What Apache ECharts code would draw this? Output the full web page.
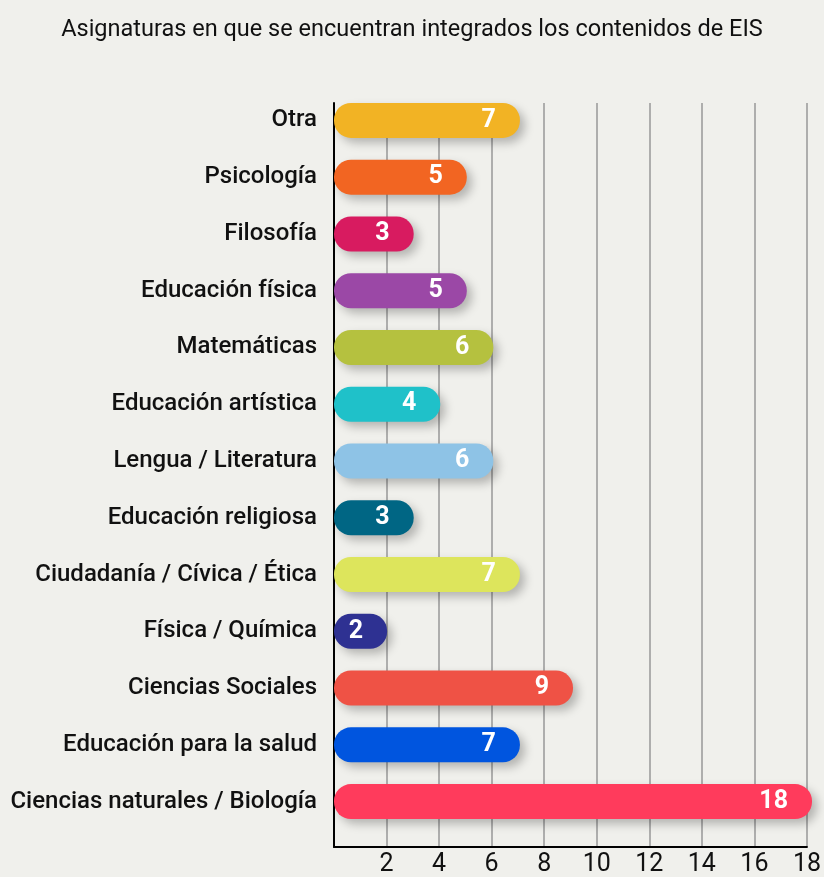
<!DOCTYPE html>
<html>
<head>
<meta charset="utf-8">
<script src="https://cdn.jsdelivr.net/npm/echarts@6/dist/echarts.min.js"></script>
<style>
  html, body { margin: 0; padding: 0; background: #f0f0ec; }
  #main { width: 824px; height: 877px; }
</style>
</head>
<body>
<div id="main"></div>
<script>
// asignaturas, de arriba hacia abajo
const asignaturas = [
  'Otra', 'Psicología', 'Filosofía', 'Educación física', 'Matemáticas',
  'Educación artística', 'Lengua / Literatura', 'Educación religiosa',
  'Ciudadanía / Cívica / Ética', 'Física / Química', 'Ciencias Sociales',
  'Educación para la salud', 'Ciencias naturales / Biología'
]
const valores = [7, 5, 3, 5, 6, 4, 6, 3, 7, 2, 9, 7, 18]
const colores = [
  '#f2b324', '#f26522', '#d81b60', '#9b48a6', '#b5c13f',
  '#1fc1c9', '#8ec3e6', '#006684', '#dde55c', '#2e3192',
  '#ef5245', '#0055df', '#ff3b5c'
]
const ticksX = [0, 2, 4, 6, 8, 10, 12, 14, 16, 18]

const myChart = echarts.init(document.getElementById('main'))

const option = {
  backgroundColor: '#f0f0ec',
  title: {
    text: 'Asignaturas en que se encuentran integrados los contenidos de EIS',
    left: 'center',
    top: 13,
    textStyle: { fontFamily: 'Roboto', fontSize: 23.5, fontWeight: 'normal', color: '#111' }
  },
  grid: [
    // barras
    { left: 334, right: 12, top: 92, height: 738 },
    // ejes y líneas de fondo
    { left: 334, right: 12, top: 103, bottom: 30 }
  ],
  xAxis: [
    { gridIndex: 0, type: 'value', min: 0, max: 18, show: false },
    {
      gridIndex: 1, type: 'value', min: ticksX[0], max: ticksX[ticksX.length - 1], interval: 2,
      axisLine: { show: true, lineStyle: { color: '#000', width: 2 } },
      axisTick: { show: false },
      splitLine: { show: true, lineStyle: { color: '#999', width: 1.5 } },
      axisLabel: {
        fontFamily: 'Roboto', fontSize: 25, color: '#111', margin: 5,
        formatter: v => (v === 0 ? '' : String(v))
      }
    }
  ],
  yAxis: [
    {
      gridIndex: 0, type: 'category', inverse: true, data: asignaturas,
      axisLine: { show: false }, axisTick: { show: false },
      axisLabel: { fontFamily: 'Roboto', fontSize: 24, fontWeight: 500, color: '#111', margin: 17 }
    },
    {
      gridIndex: 1, type: 'category', data: [''],
      axisLine: { show: true, lineStyle: { color: '#000', width: 2 } },
      axisTick: { show: false }, axisLabel: { show: false }
    }
  ],
  series: [
    {
      type: 'bar',
      xAxisIndex: 0,
      yAxisIndex: 0,
      barWidth: 35,
      z: 5,
      data: valores.map((v, i) => ({ value: v, itemStyle: { color: colores[i] } })),
      itemStyle: {
        borderRadius: 17,
        shadowBlur: 10,
        shadowOffsetX: 5,
        shadowOffsetY: 5,
        shadowColor: 'rgba(0,0,0,0.25)'
      },
      label: {
        show: true,
        position: 'insideRight',
        distance: 24,
        fontFamily: 'Roboto',
        fontSize: 25,
        fontWeight: 'bold',
        color: '#fff'
      }
    }
  ]
}

myChart.setOption(option)
</script>
</body>
</html>
